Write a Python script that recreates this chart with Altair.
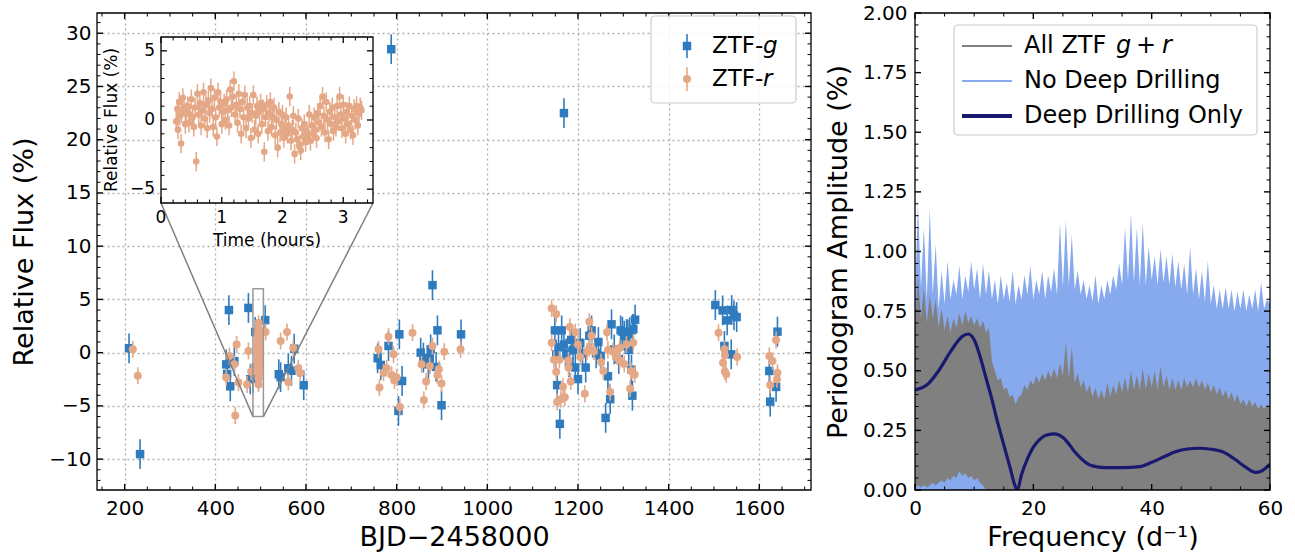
import altair as alt
import pandas as pd

FONT = "DejaVu Sans"
BLUE = "#2f7bbf"
ORANGE = "#e5a886"
LBLUE = "#87a9ee"
GRAY = "#808080"
NAVY = "#191970"

# ---------------- data: ZTF-g (BJD-2458000, relative flux %) ----------------
G_BJD = [209.6, 234, 424, 426, 430, 433, 442, 473, 477, 483, 488, 510, 540, 544, 561, 568, 574, 595,
         758, 765, 782, 788, 804, 806, 812, 853, 859, 870, 873, 875, 879, 887, 890, 899, 942,
         1149, 1152, 1154, 1157, 1160, 1164, 1169, 1169, 1174, 1180, 1185, 1189, 1194, 1200, 1205, 1210,
         1217, 1225, 1230, 1240, 1245, 1250, 1261, 1266, 1271, 1274, 1280, 1290, 1294, 1298, 1302, 1307,
         1310, 1312, 1314, 1318, 1320, 1321, 1322, 1326,
         1503, 1519, 1523, 1529, 1538, 1539, 1544, 1550,
         1622, 1624, 1637, 1640]
G_FLUX = [0.41, -9.53, -1.1, -2.0, 4.0, -3.16, -0.8, 4.2, -2.5, -2.4, 1.94, 3.06, -2.03, -2.3, -1.47, -1.7, 0.37, -3.06,
          -0.53, -1.16, 0.63, 28.5, -5.47, 1.72, -2.66, 0.0, -0.47, -1.1, -0.53, 0.31, 6.34, -1.34, 2.1, -4.94, 1.72,
          2.09, -0.17, -3.05, 0.5, -6.69, 2.09, 0.76, 22.5, -0.07, -0.9, 1.2, 0.26, -1.39, -2.48, 0.9, -0.07,
          -1.4, 1.59, 2.09, -0.07, 1.0, -0.3, -6.13, -2.22, -4.37, 2.66, 0.3, -0.6, 2.09, 1.97, 1.59, 1.75,
          1.72, 0.26, 1.92, -1.6, -4.04, 2.19, 2.25, 3.1,
          4.47, 3.97, 0.63, 3.03, -0.16, 4.0, 3.5, 3.34,
          -1.72, -4.6, -3.22, 1.97]
G_ERR = 1.4

# ---------------- data: ZTF-r ----------------
R_BJD = [218, 229, 424, 431, 442, 444, 447, 451, 470, 473, 479, 511, 544, 558, 561, 572, 583, 587,
         760, 762, 771, 778, 782, 789, 793, 795, 800, 807, 835, 855, 860, 865, 873, 879, 890, 893, 899, 905, 941,
         1142, 1152, 1142, 1147, 1152, 1154, 1162, 1171, 1167, 1159, 1179, 1182, 1194, 1200, 1179, 1184,
         1205, 1215, 1225, 1230, 1225, 1220, 1235, 1251, 1256, 1264, 1266, 1271, 1277, 1287, 1292, 1302,
         1307, 1317, 1322, 1315, 1325, 1292, 1282,
         1510, 1520, 1523, 1524, 1524, 1527, 1551,
         1622, 1624, 1629, 1637, 1639, 1640]
R_FLUX = [0.31, -2.16, -2.34, -0.31, -1.1, -5.9, 0.76, -2.8, -3.0, 0.16, -1.8, 1.94, 1.1, 1.94, -2.75, 0.43, -1.47, -1.9,
          0.31, -3.28, -1.88, -1.47, 1.5, -2.1, -0.16, -2.6, -2.34, -5.1, 1.88, -1.1, -4.44, -2.72, -1.25, 0.63, -2.1, -1.56, -2.9, 0.09, 0.31,
          4.17, 3.64, 0.93, -0.66, -1.79, -4.64, -4.37, -4.2, -3.2, -0.66, -0.73, 2.42, 1.92, 0.76, -1.39, -2.7,
          -0.4, -3.87, 2.9, 1.59, 0.43, 0.1, 0.1, -0.9, -1.72, 1.92, 0.26, -3.7, 0.1, -0.4, -0.73, -1.06,
          0.76, -1.72, 0.93, -3.38, -2.05, 0.43, -0.07,
          1.88, -0.94, 0.31, -0.22, -1.78, -2.03, -0.41,
          -0.31, -3.03, -0.78, 1.19, -2.5, -1.88]
R_ERR = 0.8

# ---------------- data: deep drilling (ZTF-r), time in hours ----------------
DD_START = 495.4
DD_T = [0.25, 0.27, 0.28, 0.30, 0.31, 0.33, 0.34, 0.36, 0.38, 0.40, 0.42, 0.44, 0.46, 0.48, 0.50, 0.52, 0.54, 0.56, 0.58,
        0.60, 0.62, 0.64, 0.66, 0.68, 0.70, 0.72, 0.74, 0.76, 0.78, 0.80, 0.82, 0.84, 0.86, 0.88, 0.90, 0.92, 0.94,
        0.96, 0.98, 1.00, 1.02, 1.04, 1.06, 1.08, 1.10, 1.12, 1.14, 1.16, 1.18, 1.20, 1.22, 1.24, 1.26, 1.28, 1.30,
        1.32, 1.34, 1.36, 1.38, 1.40, 1.42, 1.44, 1.46, 1.48, 1.50, 1.52, 1.54, 1.56, 1.58, 1.60, 1.62, 1.64, 1.66,
        1.68, 1.70, 1.72, 1.74, 1.76, 1.78, 1.80, 1.82, 1.84, 1.86, 1.88, 1.90, 1.92, 1.94, 1.96, 1.98, 2.00, 2.02,
        2.04, 2.06, 2.08, 2.10, 2.12, 2.14, 2.16, 2.18, 2.20, 2.22, 2.24, 2.26, 2.28, 2.30, 2.32, 2.34, 2.36, 2.38,
        2.40, 2.42, 2.44, 2.46, 2.48, 2.50, 2.52, 2.54, 2.56, 2.58, 2.60, 2.62, 2.64, 2.66, 2.68, 2.70, 2.72, 2.74,
        2.76, 2.78, 2.80, 2.82, 2.84, 2.86, 2.88, 2.90, 2.92, 2.94, 2.96, 2.98, 3.00, 3.02, 3.04, 3.06, 3.08, 3.10,
        3.12, 3.14, 3.16, 3.18, 3.20, 3.22, 3.24, 3.26, 3.28, 3.30]
DD_FLUX = [-0.1, 0.8, -0.7, 1.3, 0.3, -1.7, 0.5, 1.6, 0.9, -0.3, 0.6, 1.0, -0.2, 0.4, 1.5, 0.2, -0.5, 0.9, -3.0,
           1.9, 0.4, 1.2, -0.4, 0.7, 2.0, 0.1, 1.1, -0.6, 1.4, 0.5, 2.3, 0.8, -0.5, 1.6, 0.2, -1.2, 2.0,
           0.9, 1.3, -0.3, 0.6, 1.2, 0.0, 1.5, 0.7, -0.4, 2.2, 0.9, 1.7, 2.8, 0.4, 1.1, -0.2, 1.9, 0.8,
           -1.0, 1.3, 0.2, 1.8, -0.6, 0.9, 0.1, 1.0, -1.3, 0.5, 1.8, -0.7, 0.3, 1.0, -1.0, 0.6, 1.2, -0.3,
           0.8, -2.3, 0.2, 1.1, -0.8, 0.5, 1.3, -0.5, 0.2, 0.9, -1.1, 0.0, -2.0, 0.6, -0.9, -0.3, 0.4, -1.3,
           -0.6, 0.2, -1.0, -0.4, 1.7, -1.5, -0.7, 0.3, -2.45, -0.9, -1.4, 0.1, -1.8, -2.2, -0.6, -1.2, -0.3, -1.6,
           -0.8, -1.1, 0.4, -1.5, -0.4, -1.0, 0.2, -0.7, -1.3, 0.5, -0.2, 1.0, -0.5, 1.7, 0.3, -0.9, 1.3, 0.0,
           -1.4, 0.6, -0.3, 0.9, -0.8, 0.2, -0.5, 1.0, -0.1, 1.7, 0.4, -0.6, 1.1, 0.1, -1.0, 0.6, -0.3, 1.0,
           -0.7, 0.3, -1.1, 0.8, 0.0, 1.0, -0.4, 0.5, 0.9, 0.7]
DD_ERR = 0.7

# ---------------- data: periodograms (amplitude %) ----------------
# dense level of each periodogram (integer frequencies) and the narrow peaks between them (half-integer frequencies)
FREQ_BASE = [0, 1, 2, 3, 4, 5, 6, 7, 8, 9, 10, 11, 12, 13, 14, 15, 16, 17, 18, 19, 20, 21, 22, 23, 24, 25, 26, 27, 28, 29,
             30, 31, 32, 33, 34, 35, 36, 37, 38, 39, 40, 41, 42, 43, 44, 45, 46, 47, 48, 49, 50, 51, 52, 53, 54, 55, 56,
             57, 58, 59, 60]
FREQ_PEAK = [0.5, 1.5, 2.5, 3.5, 4.5, 5.5, 6.5, 7.5, 8.5, 9.5, 10.5, 11.5, 12.5, 13.5, 14.5, 15.5, 16.5, 17.5, 18.5,
             19.5, 20.5, 21.5, 22.5, 23.5, 24.5, 25.5, 26.5, 27.5, 28.5, 29.5, 30.5, 31.5, 32.5, 33.5, 34.5, 35.5, 36.5,
             37.5, 38.5, 39.5, 40.5, 41.5, 42.5, 43.5, 44.5, 45.5, 46.5, 47.5, 48.5, 49.5, 50.5, 51.5, 52.5, 53.5, 54.5,
             55.5, 56.5, 57.5, 58.5, 59.5]
NODD_BASE = [0.80, 0.85, 0.80, 0.82, 0.76, 0.78, 0.80, 0.82, 0.80, 0.83, 0.84, 0.80, 0.82, 0.80, 0.78, 0.80, 0.79, 0.78,
             0.80, 0.82, 0.80, 0.82, 0.80, 0.83, 0.82, 0.85, 0.86, 0.84, 0.82, 0.80, 0.79, 0.78, 0.80, 0.82, 0.84, 0.86,
             0.88, 0.87, 0.86, 0.86, 0.88, 0.86, 0.87, 0.86, 0.85, 0.84, 0.82, 0.82, 0.80, 0.79, 0.78, 0.76, 0.76, 0.76,
             0.75, 0.76, 0.75, 0.76, 0.75, 0.76, 0.78]
NODD_PEAK = [1.20, 1.10, 1.18, 1.03, 0.92, 0.96, 0.88, 0.94, 0.90, 0.96, 0.93, 0.95, 0.92, 0.88, 0.90, 0.87, 0.92, 0.86,
             0.90, 0.94, 0.88, 0.92, 0.90, 0.93, 1.12, 1.13, 1.07, 0.92, 0.88, 0.86, 0.90, 0.86, 0.88, 0.90, 0.95, 1.10,
             1.16, 1.10, 1.12, 1.02, 0.98, 1.01, 0.98, 0.99, 0.96, 0.95, 1.02, 0.93, 0.92, 0.96, 0.86, 0.84, 0.85, 0.84,
             0.83, 0.84, 0.82, 0.84, 0.87, 0.80]
ALL_BASE = [0.68, 0.72, 0.70, 0.72, 0.68, 0.67, 0.66, 0.68, 0.69, 0.70, 0.69, 0.68, 0.66, 0.54, 0.46, 0.42, 0.39, 0.36,
            0.40, 0.42, 0.44, 0.45, 0.46, 0.47, 0.47, 0.48, 0.47, 0.45, 0.43, 0.41, 0.39, 0.38, 0.38, 0.39, 0.40, 0.41,
            0.41, 0.42, 0.42, 0.42, 0.43, 0.42, 0.43, 0.42, 0.42, 0.42, 0.43, 0.43, 0.43, 0.42, 0.41, 0.40, 0.39, 0.38,
            0.37, 0.36, 0.35, 0.35, 0.34, 0.34, 0.35]
ALL_PEAK = [0.90, 0.85, 0.82, 0.80, 0.76, 0.73, 0.72, 0.74, 0.75, 0.73, 0.72, 0.71, 0.68, 0.50, 0.47, 0.43, 0.40, 0.39,
            0.44, 0.46, 0.48, 0.49, 0.50, 0.51, 0.53, 0.62, 0.60, 0.49, 0.46, 0.44, 0.43, 0.42, 0.45, 0.44, 0.46, 0.47,
            0.50, 0.48, 0.51, 0.49, 0.50, 0.52, 0.48, 0.47, 0.46, 0.47, 0.46, 0.47, 0.46, 0.45, 0.44, 0.43, 0.42, 0.41,
            0.40, 0.38, 0.38, 0.37, 0.36, 0.36]
FREQ_LOW = [0, 0.5, 1, 1.5, 2, 2.5, 3, 3.5, 4, 4.5, 5, 5.5, 6, 6.5, 7, 7.5, 8, 8.5, 9, 9.5, 10, 10.5, 11, 11.5, 12]
AMP_NO_DD_LOW = [0.01, 0.02, 0.01, 0.02, 0.01, 0.02, 0.03, 0.02, 0.03, 0.04, 0.03, 0.05, 0.04, 0.06, 0.05, 0.08,
                 0.06, 0.07, 0.05, 0.06, 0.04, 0.05, 0.03, 0.02, 0.0]
DDO_FREQ = [0, 2, 4, 6, 8, 9, 10, 11, 12, 13, 14, 15, 16, 17, 17.3, 18, 19, 20, 21, 22, 23.5, 25, 26, 27, 28, 29, 30,
            32, 35, 38, 40, 42, 44, 46, 48, 50, 52, 54, 56, 57.5, 58.5, 60]
DDO_AMP = [0.42, 0.44, 0.50, 0.58, 0.644, 0.654, 0.63, 0.56, 0.47, 0.38, 0.28, 0.19, 0.10, 0.012, 0.0, 0.064, 0.13,
           0.18, 0.21, 0.228, 0.235, 0.22, 0.193, 0.16, 0.134, 0.113, 0.101, 0.094, 0.094, 0.098, 0.116, 0.138, 0.16,
           0.172, 0.175, 0.171, 0.16, 0.13, 0.094, 0.074, 0.079, 0.108]

# ---------------- layout ----------------
W1, H, W2 = 714, 477, 355
XD = (139, 1714)
YD = (-12.9, 31.9)
FD = (0, 60)
AD = (0, 2)
IX0, IX1, IY0, IY1 = 64, 276, 24, 190      # inset frame, pixels inside the left plot
IT = (0, 3.49)
IF = (-6, 6)
ZOOM_BOX = (483, 506, -6, 6)

xs = alt.Scale(domain=list(XD), nice=False, zero=False)
ys = alt.Scale(domain=list(YD), nice=False, zero=False)
fs = alt.Scale(domain=list(FD), nice=False, zero=False)
aS = alt.Scale(domain=list(AD), nice=False, zero=False)


def x_of_px(px):
    return XD[0] + px / W1 * (XD[1] - XD[0])


def y_of_px(py):
    return YD[1] - py / H * (YD[1] - YD[0])


def inset_x(t):
    return x_of_px(IX0 + (t - IT[0]) / (IT[1] - IT[0]) * (IX1 - IX0))


def inset_y(f):
    return y_of_px(IY1 - (f - IF[0]) / (IF[1] - IF[0]) * (IY1 - IY0))


ONE = pd.DataFrame({"k": [0]})


def text(t, x, y, size, angle=0, style="normal", align="left", baseline="middle"):
    return alt.Chart(ONE).mark_text(text=t, font=FONT, fontSize=size, angle=angle, fontStyle=style,
                                    align=align, baseline=baseline, color="black").encode(
        x=alt.value(x), y=alt.value(y))


def X(f, sc):
    return alt.X(f, type="quantitative", scale=sc, axis=None)


def Y(f, sc):
    return alt.Y(f, type="quantitative", scale=sc, axis=None)


def xticks(vals, sc, top, bottom, w):
    return alt.Chart(pd.DataFrame({"v": vals})).mark_rule(color="black", strokeWidth=w).encode(
        x=X("v", sc), y=alt.value(top), y2=alt.value(bottom))


def yticks(vals, sc, left, right, w):
    return alt.Chart(pd.DataFrame({"v": vals})).mark_rule(color="black", strokeWidth=w).encode(
        y=Y("v", sc), x=alt.value(left), x2=alt.value(right))


def frame(w, h):
    return alt.Chart(ONE).mark_rect(fillOpacity=0, stroke="black", strokeWidth=1.3).encode(
        x=alt.value(0), x2=alt.value(w), y=alt.value(0), y2=alt.value(h))


axis_common = dict(ticks=False, domain=False, labelFontSize=20, titleFontSize=27, labelFont=FONT,
                   titleFont=FONT, labelColor="black", titleColor="black", titleFontWeight="normal",
                   labelFlush=False, labelOverlap=False)

# ---------------- left panel ----------------
g = pd.DataFrame({"x": G_BJD, "y": G_FLUX})
g["lo"] = g["y"] - G_ERR
g["hi"] = g["y"] + G_ERR
r = pd.DataFrame({"x": R_BJD, "y": R_FLUX})
r["lo"] = r["y"] - R_ERR
r["hi"] = r["y"] + R_ERR
ddm = pd.DataFrame({"x": [DD_START + t / 24.0 for t in DD_T], "y": DD_FLUX})
ddm["lo"] = ddm["y"] - DD_ERR
ddm["hi"] = ddm["y"] + DD_ERR
ddi = pd.DataFrame({"x": [inset_x(t) for t in DD_T], "y": [inset_y(f) for f in DD_FLUX],
                    "lo": [inset_y(f - DD_ERR) for f in DD_FLUX], "hi": [inset_y(f + DD_ERR) for f in DD_FLUX]})

ax_x = alt.Axis(values=[200, 400, 600, 800, 1000, 1200, 1400, 1600], format="d", title="BJD\u22122458000",
                grid=True, gridDash=[2, 3], gridColor="#b0b0b0", gridWidth=1.3, labelPadding=8, titlePadding=6,
                **axis_common)
ax_y = alt.Axis(values=[-10, -5, 0, 5, 10, 15, 20, 25, 30], title="Relative Flux (%)", grid=True,
                gridDash=[2, 3], gridColor="#b0b0b0", gridWidth=1.3, labelPadding=6, titlePadding=10,
                labelExpr="replace(datum.label, '-', '\u2212')", **axis_common)

L = []
L.append(alt.Chart(g).mark_rule(color=BLUE, strokeWidth=1.6).encode(
    x=alt.X("x:Q", scale=xs, axis=ax_x), y=alt.Y("lo:Q", scale=ys, axis=ax_y), y2="hi:Q"))
L.append(alt.Chart(g).mark_square(color=BLUE, size=72, opacity=1).encode(x=X("x", xs), y=Y("y", ys)))
L.append(alt.Chart(r).mark_rule(color=ORANGE, strokeWidth=1.6).encode(x=X("x", xs), y=Y("lo", ys), y2="hi:Q"))
L.append(alt.Chart(r).mark_circle(color=ORANGE, size=64, opacity=1).encode(x=X("x", xs), y=Y("y", ys)))
L.append(alt.Chart(ddm).mark_rule(color=ORANGE, strokeWidth=1.6).encode(x=X("x", xs), y=Y("lo", ys), y2="hi:Q"))
L.append(alt.Chart(ddm).mark_circle(color=ORANGE, size=64, opacity=1).encode(x=X("x", xs), y=Y("y", ys)))

zb = pd.DataFrame({"x": [ZOOM_BOX[0]], "x2": [ZOOM_BOX[1]], "y": [ZOOM_BOX[2]], "y2": [ZOOM_BOX[3]]})
L.append(alt.Chart(zb).mark_rect(fillOpacity=0, stroke="#9a9a9a", strokeWidth=1.5).encode(
    x=X("x", xs), x2="x2:Q", y=Y("y", ys), y2="y2:Q"))
con = pd.DataFrame({"x": [inset_x(IT[0]), inset_x(IT[1])], "y": [inset_y(IF[0])] * 2,
                    "x2": [ZOOM_BOX[0], ZOOM_BOX[1]], "y2": [ZOOM_BOX[2]] * 2})
L.append(alt.Chart(con).mark_rule(color=GRAY, strokeWidth=1.5).encode(
    x=X("x", xs), y=Y("y", ys), x2="x2:Q", y2="y2:Q"))

# inset
ifr = pd.DataFrame({"x": [inset_x(IT[0])], "x2": [inset_x(IT[1])], "y": [inset_y(IF[0])], "y2": [inset_y(IF[1])]})
L.append(alt.Chart(ifr).mark_rect(fill="white", stroke="black", strokeWidth=1.3).encode(
    x=X("x", xs), x2="x2:Q", y=Y("y", ys), y2="y2:Q"))
L.append(alt.Chart(ddi).mark_rule(color=ORANGE, strokeWidth=1.5).encode(x=X("x", xs), y=Y("lo", ys), y2="hi:Q"))
L.append(alt.Chart(ddi).mark_circle(color=ORANGE, size=44, opacity=1).encode(x=X("x", xs), y=Y("y", ys)))

INSET_XMAJ = [0, 1, 2, 3]
INSET_XMIN = [0.2, 0.4, 0.6, 0.8, 1.2, 1.4, 1.6, 1.8, 2.2, 2.4, 2.6, 2.8, 3.2, 3.4]
INSET_YMAJ = [-5, 0, 5]
INSET_YMIN = [-4, -3, -2, -1, 1, 2, 3, 4]
L.append(xticks([inset_x(t) for t in INSET_XMAJ], xs, IY1, IY1 - 6, 1.3))
L.append(xticks([inset_x(t) for t in INSET_XMIN], xs, IY1, IY1 - 3.5, 1))
L.append(xticks([inset_x(t) for t in INSET_XMAJ], xs, IY0, IY0 + 6, 1.3))
L.append(xticks([inset_x(t) for t in INSET_XMIN], xs, IY0, IY0 + 3.5, 1))
L.append(yticks([inset_y(f) for f in INSET_YMAJ], ys, IX0, IX0 + 6, 1.3))
L.append(yticks([inset_y(f) for f in INSET_YMIN], ys, IX0, IX0 + 3.5, 1))
L.append(yticks([inset_y(f) for f in INSET_YMAJ], ys, IX1, IX1 - 6, 1.3))
L.append(yticks([inset_y(f) for f in INSET_YMIN], ys, IX1, IX1 - 3.5, 1))
ixl = pd.DataFrame({"x": [inset_x(t) for t in INSET_XMAJ], "lab": ["0", "1", "2", "3"]})
L.append(alt.Chart(ixl).mark_text(font=FONT, fontSize=17, baseline="middle", align="center", color="black").encode(
    x=X("x", xs), y=alt.value(IY1 + 15), text="lab:N"))
iyl = pd.DataFrame({"y": [inset_y(f) for f in INSET_YMAJ], "lab": ["\u22125", "0", "5"]})
L.append(alt.Chart(iyl).mark_text(font=FONT, fontSize=17, baseline="middle", align="right", color="black").encode(
    y=Y("y", ys), x=alt.value(IX0 - 6), text="lab:N"))
L.append(text("Time (hours)", (IX0 + IX1) / 2, IY1 + 38, 17, align="center"))
L.append(text("Relative Flux (%)", 15, (IY0 + IY1) / 2, 17, angle=270, align="center"))

# main inward ticks
MX_MAJ = [200, 400, 600, 800, 1000, 1200, 1400, 1600]
MX_MIN = [v for v in range(150, 1714, 50) if v % 200 != 0]
MY_MAJ = [-10, -5, 0, 5, 10, 15, 20, 25, 30]
MY_MIN = [v for v in range(-12, 32) if v % 5 != 0]
L.append(xticks(MX_MAJ, xs, H, H - 6, 1.4))
L.append(xticks(MX_MIN, xs, H, H - 3.5, 1))
L.append(xticks(MX_MAJ, xs, 0, 6, 1.4))
L.append(xticks(MX_MIN, xs, 0, 3.5, 1))
L.append(yticks(MY_MAJ, ys, 0, 6, 1.4))
L.append(yticks(MY_MIN, ys, 0, 3.5, 1))
L.append(yticks(MY_MAJ, ys, W1, W1 - 6, 1.4))
L.append(yticks(MY_MIN, ys, W1, W1 - 3.5, 1))

# legend (left)
L.append(alt.Chart(ONE).mark_rect(fill="white", fillOpacity=0.85, stroke="#cccccc", strokeWidth=1.2,
                                  cornerRadius=4).encode(
    x=alt.value(554), x2=alt.value(699), y=alt.value(3), y2=alt.value(90)))
L.append(alt.Chart(ONE).mark_rule(color=BLUE, strokeWidth=1.6).encode(
    x=alt.value(590), y=alt.value(21), y2=alt.value(45)))
L.append(alt.Chart(ONE).mark_square(color=BLUE, size=72, opacity=1).encode(x=alt.value(590), y=alt.value(33)))
L.append(alt.Chart(ONE).mark_rule(color=ORANGE, strokeWidth=1.6).encode(
    x=alt.value(590), y=alt.value(54), y2=alt.value(78)))
L.append(alt.Chart(ONE).mark_circle(color=ORANGE, size=64, opacity=1).encode(x=alt.value(590), y=alt.value(66)))
L.append(text("ZTF-", 615, 33, 23))
L.append(text("g", 666, 33, 23, style="italic"))
L.append(text("ZTF-", 615, 66, 23))
L.append(text("r", 666, 66, 23, style="italic"))
L.append(frame(W1, H))

left = alt.layer(*L).resolve_axis(x="independent", y="independent").properties(width=W1, height=H)

# ---------------- right panel ----------------
# the periodograms: dense levels and peaks in frequency order, drawn as one filled curve each
nodd = pd.concat([pd.DataFrame({"f": FREQ_BASE, "a": NODD_BASE}),
                  pd.DataFrame({"f": FREQ_PEAK, "a": NODD_PEAK})]).sort_values("f")
allz = pd.concat([pd.DataFrame({"f": FREQ_BASE, "a": ALL_BASE}),
                  pd.DataFrame({"f": FREQ_PEAK, "a": ALL_PEAK})]).sort_values("f")
pgl = pd.DataFrame({"f": FREQ_LOW, "a": AMP_NO_DD_LOW})
ddo = pd.DataFrame({"f": DDO_FREQ, "a": DDO_AMP})

ax_f = alt.Axis(values=[0, 20, 40, 60], format="d", title="Frequency (d\u207b\u00b9)", grid=False,
                labelPadding=8, titlePadding=6, **axis_common)
ax_a = alt.Axis(values=[0, 0.25, 0.5, 0.75, 1.0, 1.25, 1.5, 1.75, 2.0], format=".2f",
                title="Periodogram Amplitude (%)", grid=False, labelPadding=8, titlePadding=10, **axis_common)

R = []
R.append(alt.Chart(nodd).mark_area(color=LBLUE, opacity=1, interpolate="linear", clip=True).encode(
    x=alt.X("f:Q", scale=fs, axis=ax_f), y=alt.Y("a:Q", scale=aS, axis=ax_a)))
R.append(alt.Chart(allz).mark_area(color=GRAY, opacity=1, interpolate="linear", clip=True).encode(
    x=X("f", fs), y=Y("a", aS)))
R.append(alt.Chart(pgl).mark_area(color=LBLUE, opacity=1, interpolate="linear", clip=True).encode(
    x=X("f", fs), y=Y("a", aS)))
R.append(alt.Chart(ddo).mark_line(color=NAVY, strokeWidth=3.2, interpolate="monotone", clip=True).encode(
    x=X("f", fs), y=Y("a", aS)))

FX_MAJ = [0, 20, 40, 60]
FX_MIN = [5, 10, 15, 25, 30, 35, 45, 50, 55]
AY_MAJ = [0, 0.25, 0.5, 0.75, 1.0, 1.25, 1.5, 1.75, 2.0]
AY_MIN = [round(i * 0.05, 2) for i in range(41) if i % 5 != 0]
R.append(xticks(FX_MAJ, fs, H, H - 6, 1.4))
R.append(xticks(FX_MIN, fs, H, H - 3.5, 1))
R.append(xticks(FX_MAJ, fs, 0, 6, 1.4))
R.append(xticks(FX_MIN, fs, 0, 3.5, 1))
R.append(yticks(AY_MAJ, aS, 0, 6, 1.4))
R.append(yticks(AY_MIN, aS, 0, 3.5, 1))
R.append(yticks(AY_MAJ, aS, W2, W2 - 6, 1.4))
R.append(yticks(AY_MIN, aS, W2, W2 - 3.5, 1))

# legend (right)
R.append(alt.Chart(ONE).mark_rect(fill="white", fillOpacity=0.85, stroke="#cccccc", strokeWidth=1.2,
                                  cornerRadius=4).encode(
    x=alt.value(39), x2=alt.value(342), y=alt.value(12), y2=alt.value(122)))
for yy, col, wd in [(33, GRAY, 2), (68, LBLUE, 2), (103, NAVY, 4)]:
    R.append(alt.Chart(ONE).mark_rule(color=col, strokeWidth=wd).encode(
        x=alt.value(47), x2=alt.value(97), y=alt.value(yy)))
R.append(text("All ZTF", 109, 33, 24))
R.append(text("g", 201, 33, 24, style="italic"))
R.append(text("+", 231, 33, 24, align="center"))
R.append(text("r", 247, 33, 24, style="italic"))
R.append(text("No Deep Drilling", 109, 68, 24))
R.append(text("Deep Drilling Only", 109, 103, 24))
R.append(frame(W2, H))

right = alt.layer(*R).resolve_axis(x="independent", y="independent").properties(width=W2, height=H)

chart = alt.hconcat(left, right, spacing=104, bounds="flush").configure_view(stroke=None).properties(
    padding={"left": 10, "top": 3, "right": 5, "bottom": 2})

chart.save("out.html", embed_options={"renderer": "svg", "actions": False})
